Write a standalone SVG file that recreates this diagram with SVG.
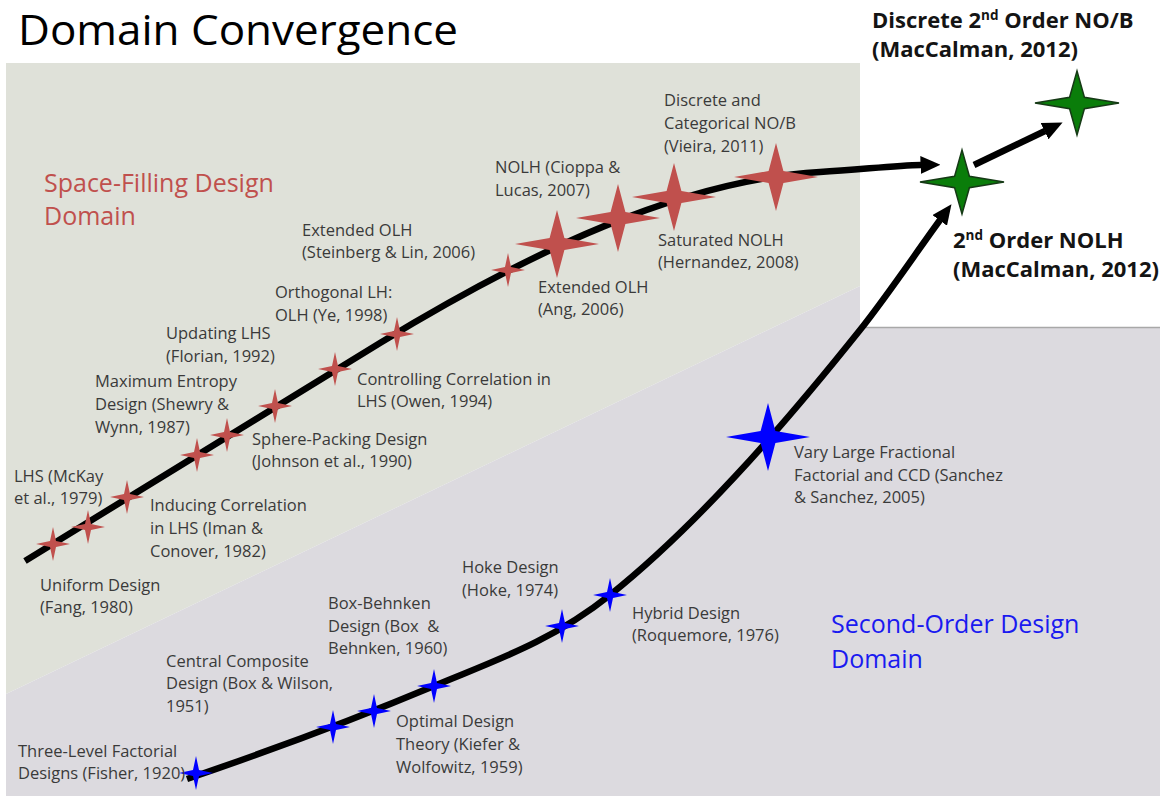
<svg xmlns="http://www.w3.org/2000/svg" xmlns:xlink="http://www.w3.org/1999/xlink" width="1165" height="796" viewBox="0 0 1165 796">
<defs>
<style>
.lbl{font-family:"Open Sans","Noto Sans",sans-serif;font-size:16.5px;fill:#3a3a3a}
.bold{font-family:"Open Sans","Noto Sans",sans-serif;font-weight:700;font-size:22px;fill:#141414}
.dom{font-family:"Open Sans","Noto Sans",sans-serif;font-size:25px}
.red{fill:#c0504d}
.blue{fill:#0000ff}
.green{fill:#0a7d0a;stroke:#163a16;stroke-width:1.5}
.conn{fill:none;stroke:#000;stroke-width:6.5;stroke-linejoin:round}
</style>
<path id="sS" d="M0,-17 L3,-3 L17,0 L3,3 L0,17 L-3,3 L-17,0 L-3,-3Z"/>
<path id="sL" d="M0,-34 L7.4,-6 L42,0 L7.4,6 L0,34 L-7.4,6 L-42,0 L-7.4,-6Z"/>
<path id="sG" d="M0,-32 L7.4,-5.7 L42,0 L7.4,5.7 L0,32 L-7.4,5.7 L-42,0 L-7.4,-5.7Z"/>
<marker id="ah" markerUnits="userSpaceOnUse" markerWidth="20" markerHeight="18" viewBox="0 0 20 18" refX="0.5" refY="9" orient="auto">
<path d="M0,0 L20,9 L0,18Z" fill="#000"/>
</marker>
</defs>

<rect x="0" y="0" width="1165" height="796" fill="#ffffff"/>

<g id="background">
<polygon points="6,63 860,63 860,286 6,694" fill="#dfe1d9"/>
<polygon points="6,694 860,286 860,328 1160,328 1160,796 6,796" fill="#dcdadf"/>
<line x1="860" y1="327.5" x2="1160" y2="327.5" stroke="#a8a8a8" stroke-width="1.5"/>
</g>

<text x="18" y="45" font-family="Open Sans, Noto Sans, sans-serif" font-size="42" textLength="440" lengthAdjust="spacingAndGlyphs" fill="#000">Domain Convergence</text>

<g id="domain-labels">
<text class="dom red" x="44" y="192">Space-Filling Design</text>
<text class="dom red" x="44" y="225">Domain</text>
<text class="dom" x="831" y="633" fill="#1a1af0">Second-Order Design</text>
<text class="dom" x="831" y="668" fill="#1a1af0">Domain</text>
</g>

<g id="connectors">
<path class="conn" marker-end="url(#ah)" d="M25,561 L380,343 C530,252 680,180 820,172 C860,169.7 895,165.5 921,165"/>
<path class="conn" marker-end="url(#ah)" d="M187,779 C269,751 352,720.4 434,686 C493,661.2 551,642.2 610,595 C693,528.6 777,433.8 860,330 C887,296 913.8,256 940,220"/>
<path class="conn" marker-end="url(#ah)" d="M974,165 L1045,131"/>
</g>

<g id="uniform-design"><use xlink:href="#sS" x="53" y="544" class="red"/>
<text class="lbl"><tspan x="40" y="591">Uniform Design</tspan><tspan x="40" y="613">(Fang, 1980)</tspan></text></g>
<g id="lhs-mckay"><use xlink:href="#sS" x="88" y="527" class="red"/>
<text class="lbl"><tspan x="14" y="482">LHS (McKay</tspan><tspan x="14" y="504">et al., 1979)</tspan></text></g>
<g id="inducing-correlation"><use xlink:href="#sS" x="127" y="497" class="red"/>
<text class="lbl"><tspan x="150" y="511">Inducing Correlation</tspan><tspan x="150" y="534">in LHS (Iman &amp;</tspan><tspan x="150" y="557">Conover, 1982)</tspan></text></g>
<g id="maximum-entropy"><use xlink:href="#sS" x="197" y="455" class="red"/>
<text class="lbl"><tspan x="95" y="387">Maximum Entropy</tspan><tspan x="95" y="410">Design (Shewry &amp;</tspan><tspan x="95" y="433">Wynn, 1987)</tspan></text></g>
<g id="sphere-packing"><use xlink:href="#sS" x="227" y="435" class="red"/>
<text class="lbl"><tspan x="252" y="445">Sphere-Packing Design</tspan><tspan x="252" y="467">(Johnson et al., 1990)</tspan></text></g>
<g id="updating-lhs"><use xlink:href="#sS" x="275" y="406" class="red"/>
<text class="lbl"><tspan x="166" y="339">Updating LHS</tspan><tspan x="166" y="362">(Florian, 1992)</tspan></text></g>
<g id="controlling-correlation"><use xlink:href="#sS" x="335" y="369" class="red"/>
<text class="lbl"><tspan x="357" y="385">Controlling Correlation in</tspan><tspan x="357" y="407">LHS (Owen, 1994)</tspan></text></g>
<g id="orthogonal-lh"><use xlink:href="#sS" x="397" y="334" class="red"/>
<text class="lbl"><tspan x="275" y="298">Orthogonal LH:</tspan><tspan x="275" y="321">OLH (Ye, 1998)</tspan></text></g>
<g id="extended-olh-steinberg"><use xlink:href="#sS" x="508" y="270" class="red"/>
<text class="lbl"><tspan x="302" y="236">Extended OLH</tspan><tspan x="302" y="258">(Steinberg &amp; Lin, 2006)</tspan></text></g>
<g id="extended-olh-ang"><use xlink:href="#sL" x="557" y="244" class="red"/>
<text class="lbl"><tspan x="538" y="293">Extended OLH</tspan><tspan x="538" y="315">(Ang, 2006)</tspan></text></g>
<g id="nolh-cioppa"><use xlink:href="#sL" x="618" y="218" class="red"/>
<text class="lbl"><tspan x="495" y="173">NOLH (Cioppa &amp;</tspan><tspan x="495" y="196">Lucas, 2007)</tspan></text></g>
<g id="saturated-nolh"><use xlink:href="#sL" x="674" y="197" class="red"/>
<text class="lbl"><tspan x="658" y="246">Saturated NOLH</tspan><tspan x="658" y="268">(Hernandez, 2008)</tspan></text></g>
<g id="discrete-categorical"><use xlink:href="#sL" x="776" y="177" class="red"/>
<text class="lbl"><tspan x="664" y="106">Discrete and</tspan><tspan x="664" y="129">Categorical NO/B</tspan><tspan x="664" y="152">(Vieira, 2011)</tspan></text></g>

<g id="second-order-nolh"><use xlink:href="#sG" x="962" y="182" class="green"/>
<text class="bold"><tspan x="953" y="248">2<tspan font-size="13.5" dy="-8">nd</tspan><tspan dy="8"> Order NOLH</tspan></tspan><tspan x="953" y="277">(MacCalman, 2012)</tspan></text></g>
<g id="discrete-second-order"><use xlink:href="#sG" x="1077" y="103" class="green"/>
<text class="bold"><tspan x="872" y="28">Discrete 2<tspan font-size="13.5" dy="-8">nd</tspan><tspan dy="8"> Order NO/B</tspan></tspan><tspan x="872" y="57">(MacCalman, 2012)</tspan></text></g>

<g id="three-level-factorial"><use xlink:href="#sS" x="196" y="773" class="blue"/>
<text class="lbl"><tspan x="18" y="757">Three-Level Factorial</tspan><tspan x="18" y="779">Designs (Fisher, 1920)</tspan></text></g>
<g id="central-composite"><use xlink:href="#sS" x="333" y="727" class="blue"/>
<text class="lbl"><tspan x="166" y="667">Central Composite</tspan><tspan x="166" y="689">Design (Box &amp; Wilson,</tspan><tspan x="166" y="712">1951)</tspan></text></g>
<g id="optimal-design"><use xlink:href="#sS" x="374" y="711" class="blue"/>
<text class="lbl"><tspan x="396" y="727">Optimal Design</tspan><tspan x="396" y="750">Theory (Kiefer &amp;</tspan><tspan x="396" y="773">Wolfowitz, 1959)</tspan></text></g>
<g id="box-behnken"><use xlink:href="#sS" x="434" y="686" class="blue"/>
<text class="lbl" xml:space="preserve"><tspan x="328" y="609">Box-Behnken</tspan><tspan x="328" y="632">Design (Box  &amp;</tspan><tspan x="328" y="654">Behnken, 1960)</tspan></text></g>
<g id="hoke-design"><use xlink:href="#sS" x="562" y="626" class="blue"/>
<text class="lbl"><tspan x="462" y="573">Hoke Design</tspan><tspan x="462" y="596">(Hoke, 1974)</tspan></text></g>
<g id="hybrid-design"><use xlink:href="#sS" x="610" y="595" class="blue"/>
<text class="lbl"><tspan x="632" y="619">Hybrid Design</tspan><tspan x="632" y="641">(Roquemore, 1976)</tspan></text></g>
<g id="vary-large-fractional"><use xlink:href="#sL" x="768" y="437" class="blue"/>
<text class="lbl"><tspan x="794" y="458">Vary Large Fractional</tspan><tspan x="794" y="481">Factorial and CCD (Sanchez</tspan><tspan x="794" y="503">&amp; Sanchez, 2005)</tspan></text></g>
</svg>
